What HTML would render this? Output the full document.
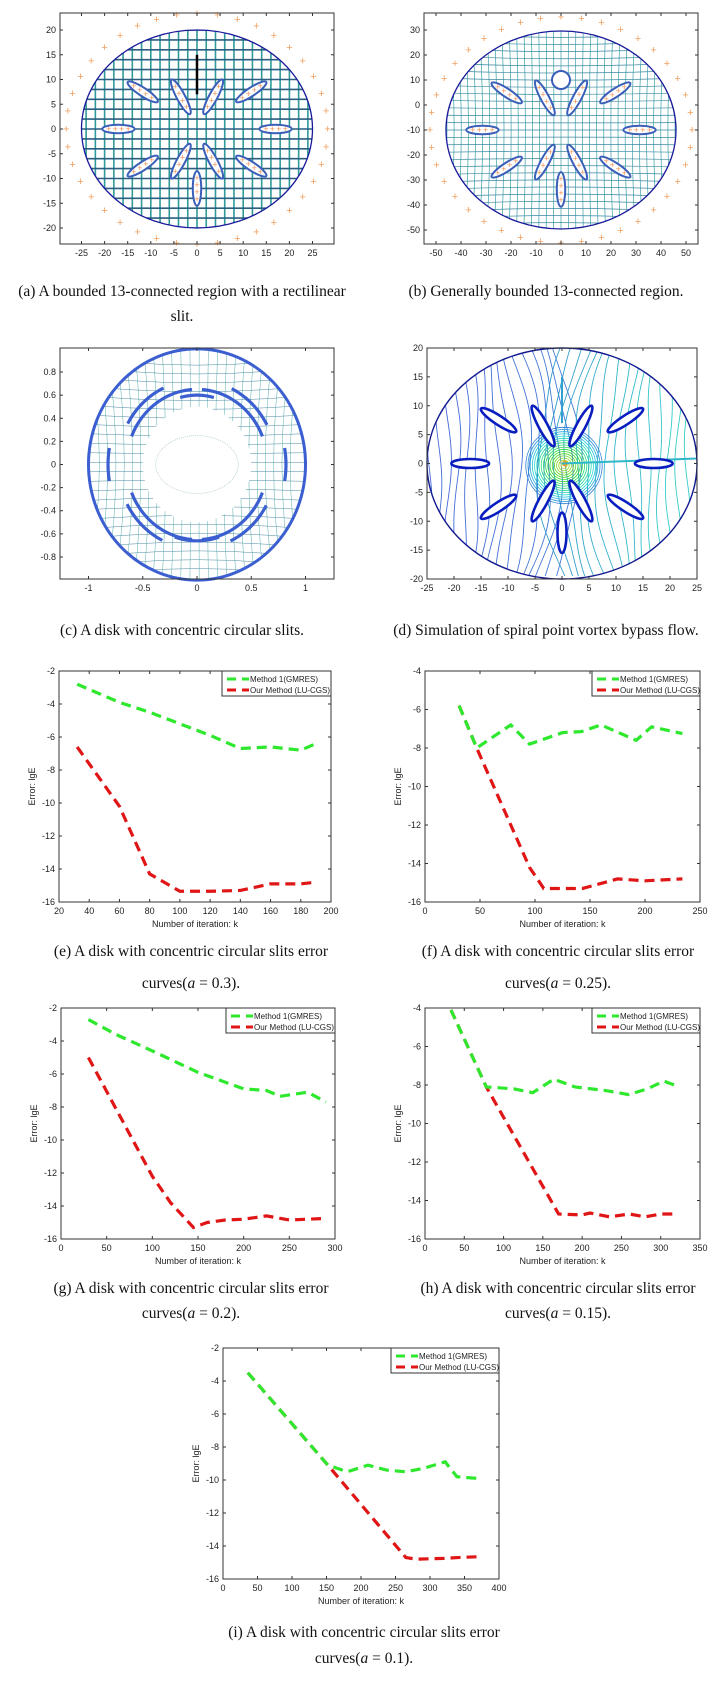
<!DOCTYPE html>
<html><head><meta charset="utf-8">
<style>
html,body{margin:0;padding:0;background:#fff;}
#root{position:relative;width:728px;height:1688px;overflow:hidden;}
svg{position:absolute;left:0;top:0;}
.cap{position:absolute;font-family:"Liberation Serif",serif;font-size:15.5px;color:#111;text-align:center;white-space:nowrap;}
</style></head>
<body>
<div id="root">
<svg id="s" width="728" height="1688"></svg>
<div class="cap" style="left:0;width:364px;top:283px;">(a) A bounded 13-connected region with a rectilinear</div>
<div class="cap" style="left:0;width:364px;top:308px;">slit.</div>
<div class="cap" style="left:364px;width:364px;top:283px;">(b) Generally bounded 13-connected region.</div>
<div class="cap" style="left:0;width:364px;top:622px;">(c) A disk with concentric circular slits.</div>
<div class="cap" style="left:364px;width:364px;top:622px;">(d) Simulation of spiral point vortex bypass flow.</div>
<div class="cap" style="left:9px;width:364px;top:943px;">(e) A disk with concentric circular slits error</div>
<div class="cap" style="left:9px;width:364px;top:975px;">curves(<i>a</i> = 0.3).</div>
<div class="cap" style="left:376px;width:364px;top:943px;">(f) A disk with concentric circular slits error</div>
<div class="cap" style="left:376px;width:364px;top:975px;">curves(<i>a</i> = 0.25).</div>
<div class="cap" style="left:9px;width:364px;top:1280px;">(g) A disk with concentric circular slits error</div>
<div class="cap" style="left:9px;width:364px;top:1305px;">curves(<i>a</i> = 0.2).</div>
<div class="cap" style="left:376px;width:364px;top:1280px;">(h) A disk with concentric circular slits error</div>
<div class="cap" style="left:376px;width:364px;top:1305px;">curves(<i>a</i> = 0.15).</div>
<div class="cap" style="left:182px;width:364px;top:1624px;">(i) A disk with concentric circular slits error</div>
<div class="cap" style="left:182px;width:364px;top:1650px;">curves(<i>a</i> = 0.1).</div>
</div>
<script>
// ---- error curve data ----
const eGreenK=[32,60,80,100,120,140,160,180,190];
const eGreenE=[-2.8,-3.9,-4.5,-5.2,-5.9,-6.7,-6.6,-6.8,-6.4];
const eRedK=[32,60,80,100,120,140,160,180,190];
const eRedE=[-6.6,-10.2,-14.3,-15.35,-15.35,-15.3,-14.9,-14.9,-14.8];
const eXTicks=[20,40,60,80,100,120,140,160,180,200];
const fGreenK=[31,47,78,95,125,142,160,192,206,234];
const fGreenE=[-5.8,-8.0,-6.8,-7.8,-7.2,-7.15,-6.8,-7.6,-6.9,-7.25];
const fRedK=[31,47,95,108,143,175,200,234];
const fRedE=[-5.8,-8.0,-14.2,-15.3,-15.3,-14.8,-14.9,-14.8];
const fXTicks=[0,50,100,150,200,250];
const gGreenK=[30,60,100,150,200,225,240,270,290];
const gGreenE=[-2.7,-3.6,-4.6,-5.9,-6.9,-7.0,-7.35,-7.1,-7.7];
const gRedK=[30,100,120,145,160,180,200,225,250,270,290];
const gRedE=[-5.0,-12.2,-13.8,-15.3,-15.0,-14.85,-14.8,-14.6,-14.85,-14.8,-14.75];
const gXTicks=[0,50,100,150,200,250,300];
const hGreenK=[33,78,113,137,164,191,232,259,283,304,324];
const hGreenE=[-4.1,-8.1,-8.2,-8.4,-7.7,-8.1,-8.3,-8.5,-8.2,-7.8,-8.1];
const hRedK=[33,78,170,200,210,235,260,280,300,320];
const hRedE=[-4.1,-8.1,-14.7,-14.75,-14.65,-14.85,-14.7,-14.85,-14.7,-14.7];
const hXTicks=[0,50,100,150,200,250,300,350];
const iGreenK=[36,152,180,210,237,265,290,322,339,368];
const iGreenE=[-3.5,-9.1,-9.5,-9.1,-9.4,-9.5,-9.3,-8.9,-9.8,-9.9];
const iRedK=[36,152,265,280,320,340,370];
const iRedE=[-3.5,-9.1,-14.7,-14.8,-14.75,-14.7,-14.65];
const iXTicks=[0,50,100,150,200,250,300,350,400];

const NS="http://www.w3.org/2000/svg";
const S=document.getElementById('s');
function mk(tag,at,parent){const e=document.createElementNS(NS,tag);for(const k in at)e.setAttribute(k,at[k]);(parent||S).appendChild(e);return e;}
function txt(x,y,t,size,anchor,parent,fam){const e=mk('text',{x:x,y:y,'font-size':size||9,'text-anchor':anchor||'middle','font-family':fam||'"Liberation Sans",sans-serif',fill:'#222'},parent);e.textContent=t;return e;}

function axesBox(id,L,R,T,B,xt,xpx,yt,ypx,fmt){
  const g=mk('g',{});
  
  
  const r=mk('rect',{x:L,y:T,width:R-L,height:B-T,fill:'none',stroke:'#333','stroke-width':1},g);
  
  
  xt.forEach(v=>{const x=xpx(v);
    mk('line',{x1:x,y1:B,x2:x,y2:B-3,stroke:'#333'},g);mk('line',{x1:x,y1:T,x2:x,y2:T+3,stroke:'#333'},g);
    const t=txt(x,B+12,fmt?fmt(v):String(v),9,'middle',g);
    
    });
  yt.forEach(v=>{const y=ypx(v);
    mk('line',{x1:L,y1:y,x2:L+3,y2:y,stroke:'#333'},g);mk('line',{x1:R,y1:y,x2:R-3,y2:y,stroke:'#333'},g);
    const t=txt(L-4,y+3,fmt?fmt(v):String(v),9,'end',g);
    
    });
  return g;
}

function errChart(id,L,R,T,B,x0,x1,y0,y1,xticks,gk,ge,rk,re,legW){
  const xp=v=>L+(v-x0)/(x1-x0)*(R-L);
  const yp=v=>T+(y0-v)/(y0-y1)*(B-T);
  const yt=[];for(let v=y0;v>=y1;v-=2)yt.push(v);
  axesBox(id,L,R,T,B,xticks,xp,yt,yp);
  const xl=txt((L+R)/2,B+25,'Number of iteration: k',9);
  
  
  const yl=txt(0,0,'Error: lgE',9);
  yl.setAttribute('transform','translate('+(L-24)+','+((T+B)/2)+') rotate(-90)');
  
  
  const pr=mk('polyline',{points:rk.map((k,i)=>xp(k)+','+yp(re[i])).join(' '),fill:'none',stroke:'#e01515','stroke-width':3.2,'stroke-dasharray':'10 6'});
  
  
  const pg=mk('polyline',{points:gk.map((k,i)=>xp(k)+','+yp(ge[i])).join(' '),fill:'none',stroke:'#2ee82e','stroke-width':3.2,'stroke-dasharray':'10 6'});
  
  
  const lx=R-legW, lg=mk('g',{});
  
  
  mk('rect',{x:lx,y:T,width:legW,height:25,fill:'#fff',stroke:'#333','stroke-width':1},lg);
  mk('line',{x1:lx+5,y1:T+8,x2:lx+27,y2:T+8,stroke:'#2ee82e','stroke-width':3,'stroke-dasharray':'9 6'},lg);
  mk('line',{x1:lx+5,y1:T+19,x2:lx+27,y2:T+19,stroke:'#e01515','stroke-width':3,'stroke-dasharray':'9 6'},lg);
  const t1=txt(lx+28,T+11,'Method 1(GMRES)',8,'start',lg);
  
  
  const t2=txt(lx+28,T+22,'Our Method (LU-CGS)',8,'start',lg);
  
  
}
errChart('chart-e',59,331,671,902,20,200,-2,-16,eXTicks,eGreenK,eGreenE,eRedK,eRedE,109);
errChart('chart-f',425,700,671,902,0,250,-4,-16,fXTicks,fGreenK,fGreenE,fRedK,fRedE,108);
errChart('chart-g',61,335,1008,1239,0,300,-2,-16,gXTicks,gGreenK,gGreenE,gRedK,gRedE,109);
errChart('chart-h',425,700,1008,1239,0,350,-4,-16,hXTicks,hGreenK,hGreenE,hRedK,hRedE,108);
errChart('chart-i',223,499,1348,1579,0,400,-2,-16,iXTicks,iGreenK,iGreenE,iRedK,iRedE,108);

// ---- top illustrations ----
const defs=mk('defs',{});
function clip(id,cx,cy,rx,ry){const c=mk('clipPath',{id:id},defs);mk('ellipse',{cx:cx,cy:cy,rx:rx,ry:ry},c);}
const petals=[[-20.5,0,-13.5,0],[13.5,0,20.5,0],[-15,9.5,-8.5,5.5],[8.5,5.5,15,9.5],[-5.5,10,-1.5,3],[1.5,3,5.5,10],
 [-15,-9.5,-8.5,-5.5],[8.5,-5.5,15,-9.5],[-5.5,-10,-1.5,-3],[1.5,-3,5.5,-10],[0,-8.5,0,-15.5]];
function drawPetals(g,xp,yp,stroke,sw,plus){
  petals.forEach(p=>{const a=xp(p[0]),b=yp(p[1]),c=xp(p[2]),d=yp(p[3]);
    const cx=(a+c)/2,cy=(b+d)/2,len=Math.hypot(c-a,d-b)/2,ang=Math.atan2(d-b,c-a)*180/Math.PI;
    const e=mk('ellipse',{cx:cx,cy:cy,rx:len,ry:4.2,fill:'#fff',stroke:stroke,'stroke-width':sw,transform:'rotate('+ang+' '+cx+' '+cy+')'},g);
    
    
    if(plus){for(let t=-0.6;t<=0.61;t+=0.4){const px=cx+(c-a)/2*t,py=cy+(d-b)/2*t;
      txt(px,py+3,'+',9,'middle',g).setAttribute('fill','#f09050');}}
  });
}
function plusRing(g,cx,cy,rx,ry,n){for(let i=0;i<n;i++){const t=i/n*2*Math.PI;
  const e=txt(cx+rx*Math.cos(t),cy+ry*Math.sin(t)+3.5,'+',11,'middle',g);e.setAttribute('fill','#f0a060');}}

// panel a
(function(){
  const L=60,R=334,T=13,B=244,cx=197,cy=129,sx=4.62,sy=4.95;
  const xp=v=>cx+v*sx, yp=v=>cy-v*sy;
  const g=mk('g',{});
  const xt=[],yt=[];for(let v=-25;v<=25;v+=5)xt.push(v);for(let v=20;v>=-20;v-=5)yt.push(v);
  clip('ca',cx,cy,25*sx,20*sy);
  const gg=mk('g',{'clip-path':'url(#ca)'},g);
  for(let v=-26;v<=26;v+=2)mk('line',{x1:xp(v),y1:T,x2:xp(v),y2:B,stroke:'#2f9a9a','stroke-width':1.6},gg);
  for(let v=-22;v<=22;v+=2)mk('line',{x1:L,y1:yp(v),x2:R,y2:yp(v),stroke:'#2a5f80','stroke-width':1.6},gg);
  mk('ellipse',{cx:cx,cy:cy,rx:25*sx,ry:20*sy,fill:'none',stroke:'#1a1a9a','stroke-width':1.3},g);
  drawPetals(g,xp,yp,'#3a5fb8',2,true);
  mk('line',{x1:xp(0),y1:yp(7),x2:xp(0),y2:yp(15),stroke:'#000','stroke-width':2.5},g);
  plusRing(g,cx,cy,28.3*sx,23.3*sy,40);
  axesBox('panel-a',L,R,T,B,xt,xp,yt,yp);
})();
// panel b
(function(){
  const L=424,R=698,T=13,B=244,cx=561,cy=130;
  const xp=v=>cx+v*2.5, yp=v=>cy-(v+10)*2.5;
  const xpa=v=>cx+v*4.62, ypa=v=>cy-v*4.95;
  const g=mk('g',{});
  const xt=[],yt=[];for(let v=-50;v<=50;v+=10)xt.push(v);for(let v=30;v>=-50;v-=10)yt.push(v);
  clip('cb',cx,cy,115,99);
  const gg=mk('g',{'clip-path':'url(#cb)'},g);
  for(let v=-120;v<=120;v+=7.5)mk('path',{d:'M'+(cx+v)+' '+T+' Q'+(cx+v*0.9)+' '+cy+' '+(cx+v)+' '+B,fill:'none',stroke:'#3aa0a8','stroke-width':0.7},gg);
  for(let v=-105;v<=105;v+=7.5)mk('path',{d:'M'+L+' '+(cy+v)+' Q'+cx+' '+(cy+v*0.9)+' '+R+' '+(cy+v),fill:'none',stroke:'#3a8aa0','stroke-width':0.7},gg);
  mk('ellipse',{cx:cx,cy:cy,rx:115,ry:99,fill:'none',stroke:'#1a1a9a','stroke-width':1.3},g);
  drawPetals(g,xpa,ypa,'#3a5fb8',2,true);
  mk('circle',{cx:cx,cy:cy-50,r:9,fill:'#fff',stroke:'#3a5fb8','stroke-width':2},g);
  plusRing(g,cx,cy,131,113,40);
  axesBox('panel-b',L,R,T,B,xt,xp,yt,yp);
})();
// panel c
(function(){
  const L=60,R=334,T=348,B=579,cx=197,cy=464.5,sx=108.5,sy=115.6;
  const xp=v=>cx+v*sx, yp=v=>cy-v*sy;
  const g=mk('g',{});
  clip('cc',cx,cy,sx,sy);
  const gg=mk('g',{'clip-path':'url(#cc)'},g);
  for(let v=-1;v<=1.001;v+=0.085){mk('path',{d:'M'+xp(v)+' '+T+' Q'+xp(v*0.8)+' '+cy+' '+xp(v)+' '+B,fill:'none',stroke:'#5aacac','stroke-width':0.5},gg);
    mk('path',{d:'M'+L+' '+yp(v)+' Q'+cx+' '+yp(v*0.8)+' '+R+' '+yp(v),fill:'none',stroke:'#4a8aa0','stroke-width':0.5},gg);}
  mk('ellipse',{cx:cx,cy:cy,rx:0.5*sx,ry:0.5*sy,fill:'#fff'},gg);
  mk('ellipse',{cx:cx,cy:cy,rx:0.38*sx,ry:0.25*sy,fill:'none',stroke:'#9bb',"stroke-width":0.6,'stroke-dasharray':'1 1'},gg);
  mk('ellipse',{cx:cx,cy:cy,rx:sx,ry:sy,fill:'none',stroke:'#3b5fd0','stroke-width':3},g);
  function arc(r,a1,a2){const p=[];for(let a=a1;a<=a2+0.01;a+=2){const t=a*Math.PI/180;p.push(xp(r*Math.cos(t))+','+yp(r*Math.sin(t)));}
    mk('polyline',{points:p.join(' '),fill:'none',stroke:'#3b5fd0','stroke-width':3.2},g);}
  arc(0.65,22,86);arc(0.65,94,158);arc(0.65,202,266);arc(0.65,274,338);
  arc(0.73,28,65);arc(0.73,115,152);arc(0.73,208,245);arc(0.73,295,332);
  arc(0.82,-10,10);arc(0.82,170,190);arc(0.6,75,105);arc(0.66,252,288);
  const xt=[-1,-0.5,0,0.5,1],yt=[0.8,0.6,0.4,0.2,0,-0.2,-0.4,-0.6,-0.8];
  axesBox('panel-c',L,R,T,B,xt,xp,yt,yp,v=>String(Math.round(v*10)/10));
})();
// panel d
(function(){
  const L=427,R=697,T=348,B=579,cx=562,cy=463.5,sx=5.4,sy=5.775;
  const xp=v=>cx+v*sx, yp=v=>cy-v*sy;
  const g=mk('g',{});
  clip('cd',cx,cy,25*sx,20*sy);
  const gg=mk('g',{'clip-path':'url(#cd)'},g);
  for(let i=0;i<34;i++){const x0=L+i*8.5;const col=i<16?'hsl('+(225-i*0.5)+',65%,55%)':'hsl('+(200-(i-16)*1.5)+',60%,50%)';
    let d='M'+x0+' '+T;for(let y=T;y<=B;y+=6){const dy=(y-cy)/115;const pull=Math.exp(-Math.pow((x0-cx)/90,2))*25*Math.sign(x0-cx);
      d+=' L'+(x0-pull*(1-dy*dy)+3*Math.sin(y/25+i))+' '+y;}
    mk('path',{d:d,fill:'none',stroke:col,'stroke-width':0.9},gg);}
  for(let r=3;r<40;r+=2.2){mk('circle',{cx:cx+2,cy:cy+2,r:r,fill:'none',stroke:'hsl('+(60+r*4)+',70%,50%)','stroke-width':0.8},gg);}
  mk('circle',{cx:cx+3,cy:cy,r:3,fill:'#f0a020'},gg);
  mk('line',{x1:cx,y1:cy,x2:R,y2:cy-5,stroke:'#30b8c8','stroke-width':2},gg);
  mk('line',{x1:xp(0),y1:yp(7),x2:xp(0),y2:yp(15),stroke:'#30a0d0','stroke-width':2},gg);
  mk('ellipse',{cx:cx,cy:cy,rx:25*sx,ry:20*sy,fill:'none',stroke:'#101890','stroke-width':1.4},g);
  petals.forEach(p=>{const a=xp(p[0]),b=yp(p[1]),c=xp(p[2]),d=yp(p[3]);
    const x=(a+c)/2,y=(b+d)/2,len=Math.hypot(c-a,d-b)/2,ang=Math.atan2(d-b,c-a)*180/Math.PI;
    const e=mk('ellipse',{cx:x,cy:y,rx:len,ry:4.5,fill:'#fff',stroke:'#0a1ec0','stroke-width':2.6,transform:'rotate('+ang+' '+x+' '+y+')'},g);
    
    });
  const xt=[],yt=[];for(let v=-25;v<=25;v+=5)xt.push(v);for(let v=20;v>=-20;v-=5)yt.push(v);
  axesBox('panel-d',L,R,T,B,xt,xp,yt,yp);
})();
</script>
</body></html>
